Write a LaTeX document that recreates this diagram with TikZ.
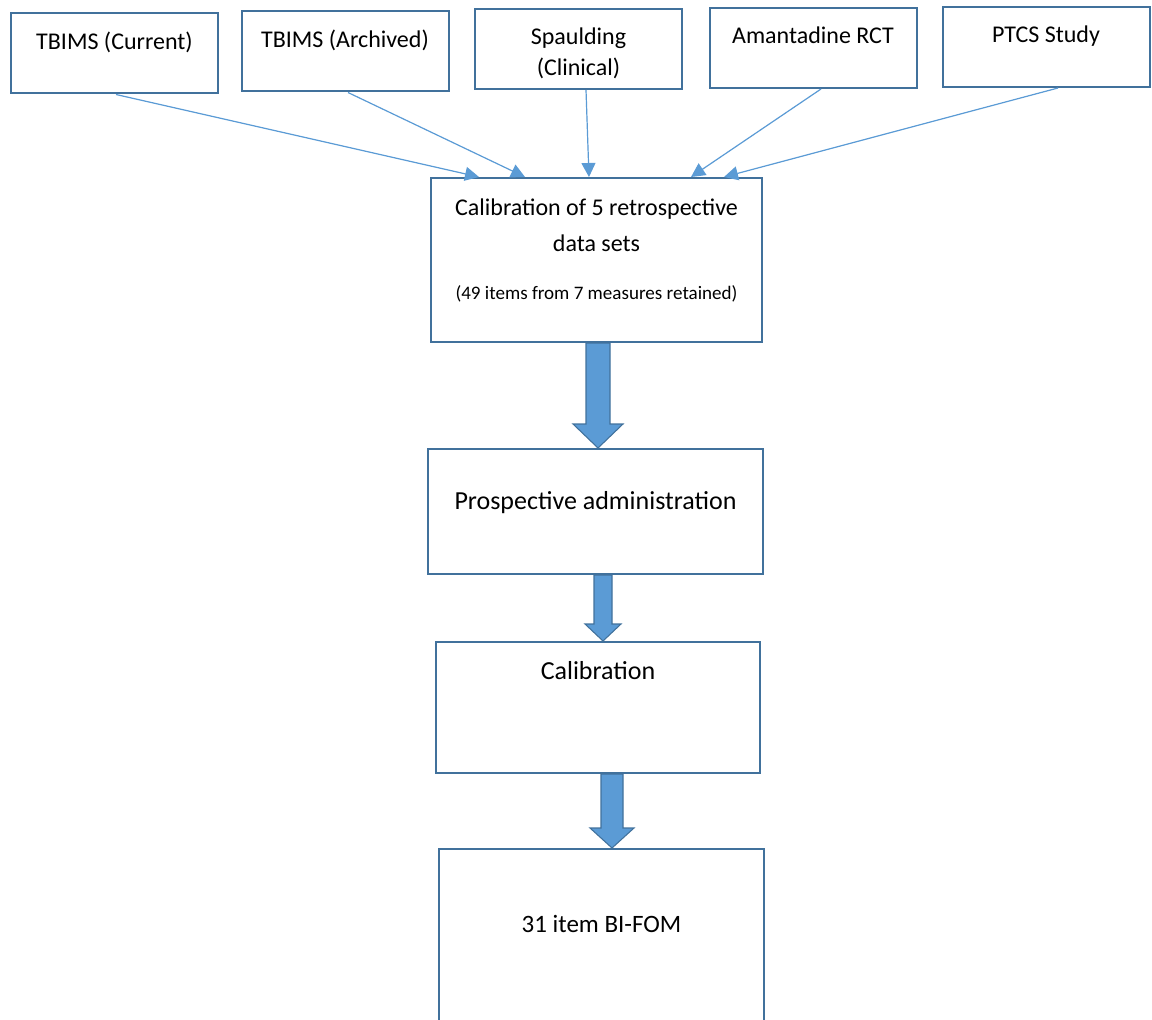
\documentclass[tikz,border=0pt]{standalone}
\usepackage{fontspec}
\setmainfont{Carlito}
\usepackage{tikz}
\usetikzlibrary{arrows.meta,calc,positioning}
\definecolor{boxblue}{HTML}{41719C}
\definecolor{arrowblue}{HTML}{5B9BD5}
\newcommand{\blockarrow}[6]{%
  \coordinate (ba top) at ($(#1.south)+(#3,0)$);
  \coordinate (ba tip) at (ba top |- #2.north);
  \draw[block] ($(ba top)+(-#4,0)$) -- ($(ba tip)+(-#4,-#6)$)
    -- ($(ba tip)+(-#5,-#6)$) -- (ba tip) -- ($(ba tip)+(#5,-#6)$)
    -- ($(ba tip)+(#4,-#6)$) -- ($(ba top)+(#4,0)$) -- cycle;}

\begin{document}
\begin{tikzpicture}[x=0.75pt,y=-0.75pt,>={Triangle[length=10.5pt,width=10.5pt]},
    source/.style={draw=boxblue,line width=1.5pt,fill=white,inner sep=0pt,
      minimum width=155.25pt,minimum height=60pt},
    stage/.style={draw=boxblue,line width=1.5pt,fill=white,inner sep=0pt},
    boxtext/.style={inner sep=0pt,anchor=base,align=center,
      font=\fontsize{18}{23.3}\selectfont},
    feed/.style={->,draw=arrowblue,fill=arrowblue,line width=0.9pt},
    block/.style={draw=boxblue,line width=0.8pt,fill=arrowblue}]

    \useasboundingbox (0,0) rectangle (1152,1020);

    \foreach \name/\x/\y in {current/114.5/53.5,archived/345/51.5,
      spaulding/578.5/49,amantadine/813/48,ptcs/1046/47}
      \node[source] (\name) at (\x,\y) {};
    \node[boxtext] (currenttext) at ($(current.north)+(0,37)$)
      {TBIMS (Current)};
    \node[boxtext] (archivedtext) at ($(archived.north)+(0,37)$)
      {TBIMS (Archived)};
    \node[boxtext] (spauldingtext) at ($(spaulding.north)+(0,68)$)
      {Spaulding\\(Clinical)};
    \node[boxtext] (amantadinetext) at ($(amantadine.north)+(0,37)$)
      {Amantadine RCT};
    \node[boxtext] (ptcstext) at ($(ptcs.north)+(0,37)$)
      {PTCS Study};

    \node[stage,minimum width=248.25pt,minimum height=123pt]
      (retro) at (596.5,260) {};
    \node[boxtext,font=\fontsize{18}{27}\selectfont] (retrohead)
      at ($(retro.north)+(0,74)$) {Calibration of 5 retrospective\\data sets};
    \node[boxtext,font=\fontsize{14.3}{17}\selectfont] (retronote)
      at ($(retro.north)+(0,122)$) {(49 items from 7 measures retained)};

    \foreach \name/\sx/\dx in {current/1.5/-117.5,archived/3/-71.5,
      spaulding/7.5/-7.5,amantadine/8/94.5,ptcs/12/127.5}
      \draw[feed] ($(\name.south)+(\sx,0)$) -- ($(retro.north)+(\dx,0)$);

    \node[stage,minimum width=251.25pt,minimum height=93.75pt]
      (prosp) at (595.5,511.5) {};
    \node[boxtext,font=\fontsize{19.5}{23}\selectfont] (prosptext)
      at ($(prosp.north)+(0,61)$) {Prospective administration};

    \node[stage,minimum width=243pt,minimum height=98.25pt]
      (calib) at (598,707.5) {};
    \node[boxtext,font=\fontsize{19.5}{23}\selectfont] (calibtext)
      at ($(calib.north)+(0,38)$) {Calibration};

    \node[stage,minimum width=243.75pt,minimum height=142.5pt]
      (fom) at (601.5,944) {};
    \node[boxtext,font=\fontsize{18.75}{23}\selectfont] (fomtext)
      at ($(fom.north)+(0,84)$) {31 item BI-FOM};

    \blockarrow{retro}{prosp}{1.5}{12}{25}{24}
    \blockarrow{prosp}{calib}{7.5}{9}{18}{17}
    \blockarrow{calib}{fom}{14}{11}{22}{20}
  \end{tikzpicture}
\end{document}
